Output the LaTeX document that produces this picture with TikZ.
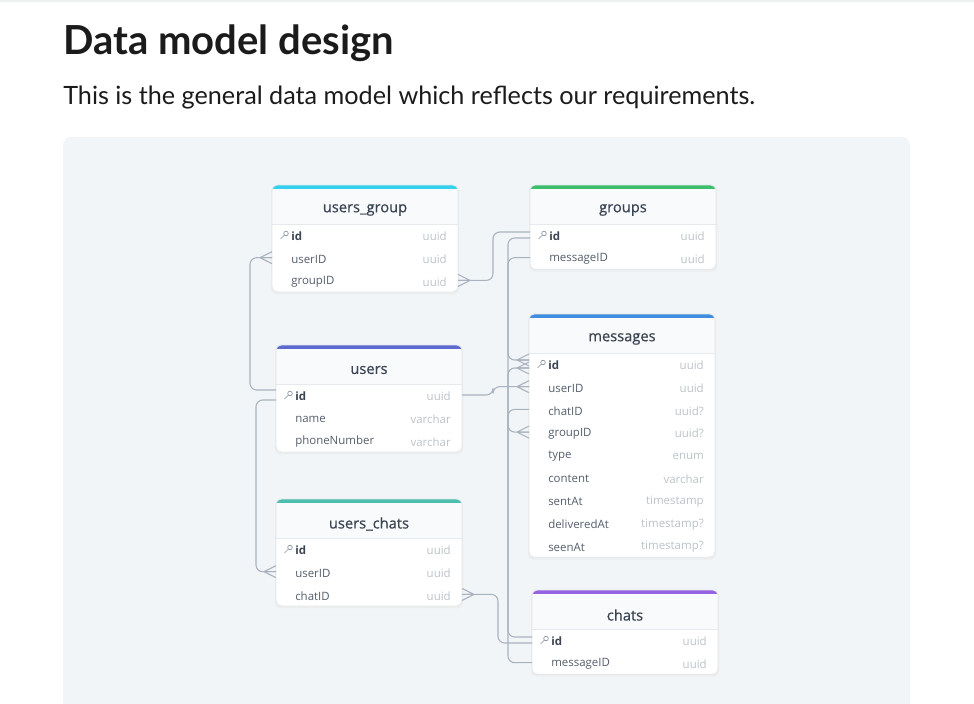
\documentclass[tikz,border=0pt]{standalone}
\usepackage{fontspec}
\setmainfont{Lato}
\newfontfamily\tabfont{Open Sans}
\newfontfamily\tabhead{Open Sans}[FakeBold=0.6]
\usetikzlibrary{calc}
\definecolor{panel}{HTML}{F1F5F8}
\definecolor{topline}{HTML}{EEF0F2}
\definecolor{inkdark}{HTML}{1B1B1B}
\definecolor{cardline}{HTML}{E2E7EC}
\definecolor{hdrbg}{HTML}{F8FAFC}
\definecolor{hdrline}{HTML}{E6EAEF}
\definecolor{tabtext}{HTML}{3B4452}
\definecolor{fieldtext}{HTML}{555E6C}
\definecolor{typetext}{HTML}{BDC3CA}
\definecolor{linkgray}{HTML}{A9B2BF}
\definecolor{keygray}{HTML}{8A929E}
\definecolor{cyanbar}{HTML}{33D1EE}
\definecolor{greenbar}{HTML}{3DBE6C}
\definecolor{indigobar}{HTML}{5C69CF}
\definecolor{bluebar}{HTML}{3F8DDE}
\definecolor{tealbar}{HTML}{4CBEAD}
\definecolor{purplebar}{HTML}{9663E0}

\tikzset{
  conn/.style={linkgray, line width=0.8pt, rounded corners=5},
  tabtitle/.style={text=tabtext, font=\tabhead\fontsize{11}{12}\selectfont, inner sep=0pt},
  fieldname/.style={text=fieldtext, font=\tabfont\fontsize{8.6}{10}\selectfont, anchor=west, inner sep=0pt},
  fieldtype/.style={text=typetext, font=\tabfont\fontsize{8.6}{10}\selectfont, anchor=east, inner sep=0pt},
}

% one table card: name, left, top, bar colour, title, rows, fields after id
\newcommand{\erdtable}[7]{%
  \pgfmathsetmacro{\tb}{#3+50+(#6-1)*22.7+11.5}
  \fill[black!7, rounded corners=4] ({#2-1},{#3+1}) rectangle ({#2+187},{\tb+2.5});
  \begin{scope}
    \clip[rounded corners=4] (#2,#3) rectangle ({#2+186},\tb);
    \fill[white] (#2,#3) rectangle ({#2+186},\tb);
    \fill[hdrbg] (#2,#3) rectangle ({#2+186},{#3+39});
    \fill[#4] (#2,#3) rectangle ({#2+186},{#3+4});
    \draw[hdrline, line width=0.6pt] (#2,{#3+39}) -- ({#2+186},{#3+39});
  \end{scope}
  \draw[cardline, line width=0.5pt, rounded corners=4] (#2,#3) rectangle ({#2+186},\tb);
  \node[tabtitle] (#1-title) at ({#2+93},{#3+25}) {#5};
  % key row
  \coordinate (#1-1-w) at (#2,{#3+50});
  \coordinate (#1-1-e) at ({#2+186},{#3+50});
  \draw[keygray, line width=0.5pt] ({#2+14},{#3+48.5}) circle (2.3);
  \draw[keygray, line width=0.5pt] ({#2+12.3},{#3+50.2}) -- ({#2+8.5},{#3+54});
  \node[fieldname, text=tabtext, font=\tabfont\bfseries\fontsize{8.6}{10}\selectfont] (#1-1) at ({#2+19},{#3+51.5}) {id};
  \node[fieldtype] (#1-1-t) at ({#2+175},{#3+51.5}) {uuid};
  \foreach \fn/\ft [count=\i from 2] in {#7} {
    \coordinate (#1-\i-w) at (#2,{#3+50+(\i-1)*22.7});
    \coordinate (#1-\i-e) at ({#2+186},{#3+50+(\i-1)*22.7});
    \node[fieldname] (#1-\i) at ({#2+19},{#3+51.5+(\i-1)*22.7}) {\fn};
    \node[fieldtype] (#1-\i-t) at ({#2+175},{#3+51.5+(\i-1)*22.7}) {\ft};
  }
}

% crow foot on a table edge, #2 = 1 opens to the right, -1 to the left
\newcommand{\crow}[2]{%
  \draw[conn, rounded corners=0] ($(#1)+(#2*12,0)$) -- ($(#1)+(0,-6)$)
    ($(#1)+(#2*12,0)$) -- (#1) ($(#1)+(#2*12,0)$) -- ($(#1)+(0,6)$);
}

\begin{document}
\begin{tikzpicture}[x=0.75pt, y=-0.75pt]

\clip (0,0) rectangle (974,703);

% Page
\fill[white] (0,0) rectangle (974,703);
\fill[topline] (0,0) rectangle (974,2);

% Heading and text
\node[anchor=base west, inner sep=0pt, text=inkdark, font=\bfseries\fontsize{30}{34}\selectfont] (title) at (63,54) {Data model design};
\node[anchor=base west, inner sep=0pt, text=inkdark, font=\fontsize{18.9}{22}\selectfont] (intro) at (63,104) {This is the general data model which reflects our requirements.};

% Diagram panel
\fill[panel, rounded corners=6] (63,137) rectangle (910,720);

% Tables
\erdtable{usersgroup}{272}{185}{cyanbar}{users\_group}{3}{userID/uuid, groupID/uuid}
\erdtable{groups}{530}{185}{greenbar}{groups}{2}{messageID/uuid}
\erdtable{users}{276}{345}{indigobar}{users}{3}{name/varchar, phoneNumber/varchar}
\erdtable{messages}{529}{314}{bluebar}{messages}{9}{userID/uuid, chatID/uuid?, groupID/uuid?, type/enum, content/varchar, sentAt/timestamp, deliveredAt/timestamp?, seenAt/timestamp?}
\erdtable{userschats}{276}{499}{tealbar}{users\_chats}{3}{userID/uuid, chatID/uuid}
\erdtable{chats}{532}{590}{purplebar}{chats}{2}{messageID/uuid}

% Link ends that share a row
\coordinate (users-id-up) at ($(users-1-w)+(0,-5)$);
\coordinate (users-id-dn) at ($(users-1-w)+(0,5)$);
\coordinate (groups-id-up) at ($(groups-1-w)+(0,-3)$);
\coordinate (groups-id-dn) at ($(groups-1-w)+(0,3)$);
\coordinate (msg-id-up) at ($(messages-1-w)+(0,-4)$);
\coordinate (msg-id-dn) at ($(messages-1-w)+(0,4)$);
\coordinate (chats-id-up) at ($(chats-1-w)+(0,-3)$);
\coordinate (chats-id-dn) at ($(chats-1-w)+(0,3)$);

% users links
\draw[conn] (users-1-e) -- ++(31,0) |- (messages-2-w);
\crow{messages-2-w}{-1}
\draw[conn] (users-id-up) -- ++(-26,0) |- (usersgroup-2-w);
\crow{usersgroup-2-w}{-1}
\draw[conn] (users-id-dn) -- ++(-20,0) |- (userschats-2-w);
\crow{userschats-2-w}{-1}

% groups links
\draw[conn] (usersgroup-3-e) -- ++(35,0) |- (groups-id-up);
\crow{usersgroup-3-e}{1}
\draw[conn] (groups-id-dn) -- ++(-22,0) |- (messages-4-w);
\crow{messages-4-w}{-1}
\draw[conn] (groups-2-w) -- ++(-22,0) |- (msg-id-up);
\crow{msg-id-up}{-1}

% chats links
\draw[conn] (chats-2-w) -- ++(-24,0) |- (msg-id-dn);
\crow{msg-id-dn}{-1}
\draw[conn] (chats-id-up) -- ++(-24,0) |- (messages-3-w);
\draw[conn] (userschats-3-e) -- ++(36,0) |- (chats-id-dn);
\crow{userschats-3-e}{1}

\end{tikzpicture}
\end{document}
